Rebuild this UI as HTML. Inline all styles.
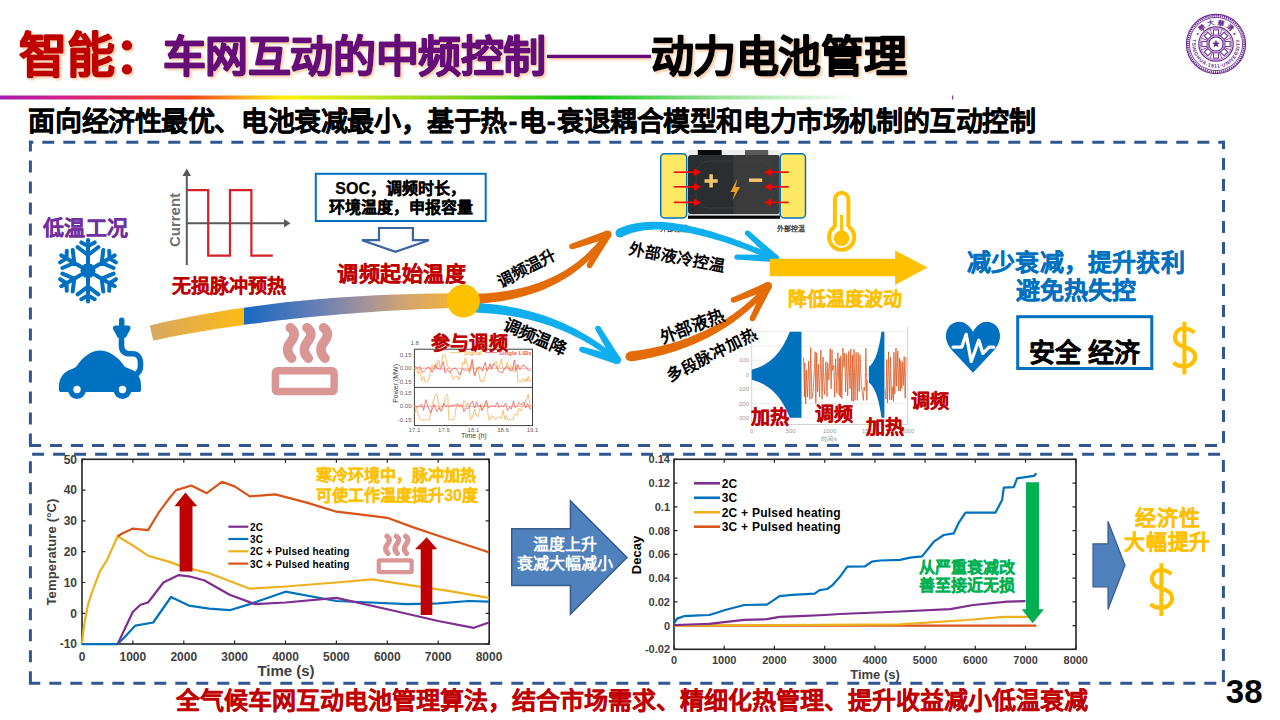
<!DOCTYPE html>
<html lang="zh-CN"><head><meta charset="utf-8"><style>
html,body{margin:0;padding:0;background:#fff;width:1280px;height:720px;overflow:hidden}
svg{position:absolute;left:0;top:0;font-family:'Liberation Sans', sans-serif}
</style></head><body>
<svg width="1280" height="720" viewBox="0 0 1280 720">
<defs><filter id="tsh" x="-5%" y="-20%" width="110%" height="150%"><feGaussianBlur in="SourceAlpha" stdDeviation="1.2"/><feOffset dx="1.5" dy="1.8" result="b"/><feFlood flood-color="#F6C49A" flood-opacity="0.8"/><feComposite in2="b" operator="in"/><feMerge><feMergeNode/><feMergeNode in="SourceGraphic"/></feMerge></filter><linearGradient id="gl" x1="0" x2="1" y1="0" y2="0"><stop offset="0" stop-color="#A21CB0"/><stop offset="0.07" stop-color="#D21E8C"/><stop offset="0.13" stop-color="#E42D5C"/><stop offset="0.22" stop-color="#F0441E"/><stop offset="0.27" stop-color="#F8931E"/><stop offset="0.33" stop-color="#FFF200"/><stop offset="0.42" stop-color="#C5E51E"/><stop offset="0.53" stop-color="#7ED321"/><stop offset="0.68" stop-color="#10C414"/><stop offset="0.82" stop-color="#8AE08A"/><stop offset="1" stop-color="#FFFFFF"/></linearGradient><linearGradient id="gb1" gradientUnits="userSpaceOnUse" x1="152" y1="0" x2="244" y2="0"><stop offset="0" stop-color="#D8A862"/><stop offset="1" stop-color="#FDBA12"/></linearGradient><linearGradient id="gb2" gradientUnits="userSpaceOnUse" x1="244" y1="0" x2="463" y2="0"><stop offset="0" stop-color="#1769C2"/><stop offset="0.35" stop-color="#6A80B4"/><stop offset="0.55" stop-color="#A3929A"/><stop offset="0.75" stop-color="#D5A56E"/><stop offset="1" stop-color="#F8B52A"/></linearGradient></defs>
<g filter="url(#tsh)">
<text x="18.9" y="71.5" font-size="48" fill="#C00000" text-anchor="start" font-weight="bold" stroke="#C00000" stroke-width="1.6" stroke-linejoin="round" >智能：</text>
<text x="162.5" y="72.4" font-size="43" fill="#66107A" text-anchor="start" font-weight="bold" stroke="#66107A" stroke-width="1.5" stroke-linejoin="round" letter-spacing="-0.40" >车网互动的中频控制</text>
<rect x="547" y="54.7" width="104" height="3.5" fill="#66107A"/>
<text x="650.5" y="72.2" font-size="43" fill="#000" text-anchor="start" font-weight="bold" stroke="#000" stroke-width="1.5" stroke-linejoin="round" letter-spacing="-0.40" >动力电池管理</text>
</g>
<rect x="0" y="95.5" width="860" height="4" fill="url(#gl)"/><rect x="952" y="95.5" width="1.2" height="4" fill="#9B30C0"/>
<text x="28.4" y="130.5" font-size="27" fill="#000" text-anchor="start" font-weight="bold" stroke="#000" stroke-width="0.4" stroke-linejoin="round" letter-spacing="-0.42" >面向经济性最优、电池衰减最小，基于热<tspan dx="1.6">-</tspan><tspan dx="1.6">电</tspan><tspan dx="1.6">-</tspan><tspan dx="1.6">衰退耦合模型和电力市场机制的互动控制</tspan></text>
<line x1="28.9" y1="142.3" x2="1225.0" y2="142.3" stroke="#30578F" stroke-width="3" stroke-dasharray="12 9" stroke-dashoffset="7.6"/>
<line x1="1223.5" y1="140.8" x2="1223.5" y2="446.9" stroke="#30578F" stroke-width="3" stroke-dasharray="12 9" stroke-dashoffset="3.7"/>
<line x1="1225.0" y1="445.4" x2="28.9" y2="445.4" stroke="#30578F" stroke-width="3" stroke-dasharray="12 9" stroke-dashoffset="13.0"/>
<line x1="30.4" y1="446.9" x2="30.4" y2="140.8" stroke="#30578F" stroke-width="3" stroke-dasharray="12 9" stroke-dashoffset="19.5"/>
<line x1="28.9" y1="454.2" x2="1224.9" y2="454.2" stroke="#30578F" stroke-width="3" stroke-dasharray="12 9" stroke-dashoffset="17.8"/>
<line x1="1223.4" y1="452.7" x2="1223.4" y2="684.8" stroke="#30578F" stroke-width="3" stroke-dasharray="12 9" stroke-dashoffset="13.7"/>
<line x1="1224.9" y1="683.3" x2="28.9" y2="683.3" stroke="#30578F" stroke-width="3" stroke-dasharray="12 9" stroke-dashoffset="12.4"/>
<line x1="30.4" y1="684.8" x2="30.4" y2="452.7" stroke="#30578F" stroke-width="3" stroke-dasharray="12 9" stroke-dashoffset="19.5"/>
<text x="175.5" y="709" font-size="24" fill="#C00000" text-anchor="start" font-weight="bold" stroke="#C00000" stroke-width="0.3" stroke-linejoin="round" >全气候车网互动电池管理算法，结合市场需求、精细化热管理、提升收益减小低温衰减</text>
<text x="1225.8" y="702.5" font-size="33" fill="#000" text-anchor="start" font-weight="bold" >38</text>
<g fill="none" stroke="#6A2C91">
<circle cx="1216" cy="44" r="29.6" stroke-width="1.1"/>
<circle cx="1216" cy="44" r="28.2" stroke-width="1.8" stroke-dasharray="1.2 0.9"/>
<circle cx="1216" cy="44" r="26.6" stroke-width="0.9"/>
<circle cx="1216" cy="44" r="17.2" stroke-width="1.2"/>
<circle cx="1216" cy="44" r="15.8" stroke-width="0.6"/>
<circle cx="1216" cy="44" r="7.2" stroke-width="1.3"/>
<line x1="1222.7" y1="46.8" x2="1230.6" y2="50.0" stroke-width="0.8"/>
<line x1="1218.8" y1="50.7" x2="1222.0" y2="58.6" stroke-width="0.8"/>
<line x1="1213.2" y1="50.7" x2="1210.0" y2="58.6" stroke-width="0.8"/>
<line x1="1209.3" y1="46.8" x2="1201.4" y2="50.0" stroke-width="0.8"/>
<line x1="1209.3" y1="41.2" x2="1201.4" y2="38.0" stroke-width="0.8"/>
<line x1="1213.2" y1="37.3" x2="1210.0" y2="29.4" stroke-width="0.8"/>
<line x1="1218.8" y1="37.3" x2="1222.0" y2="29.4" stroke-width="0.8"/>
<line x1="1222.7" y1="41.2" x2="1230.6" y2="38.0" stroke-width="0.8"/>
</g>
<rect x="1224.9" y="41.4" width="5.2" height="5.2" fill="none" stroke="#6A2C91" stroke-width="1" transform="rotate(90 1227.5 44.0)"/>
<rect x="1221.5" y="49.5" width="5.2" height="5.2" fill="none" stroke="#6A2C91" stroke-width="1" transform="rotate(135 1224.1 52.1)"/>
<rect x="1213.4" y="52.9" width="5.2" height="5.2" fill="none" stroke="#6A2C91" stroke-width="1" transform="rotate(180 1216.0 55.5)"/>
<rect x="1205.3" y="49.5" width="5.2" height="5.2" fill="none" stroke="#6A2C91" stroke-width="1" transform="rotate(225 1207.9 52.1)"/>
<rect x="1201.9" y="41.4" width="5.2" height="5.2" fill="none" stroke="#6A2C91" stroke-width="1" transform="rotate(270 1204.5 44.0)"/>
<rect x="1205.3" y="33.3" width="5.2" height="5.2" fill="none" stroke="#6A2C91" stroke-width="1" transform="rotate(315 1207.9 35.9)"/>
<rect x="1213.4" y="29.9" width="5.2" height="5.2" fill="none" stroke="#6A2C91" stroke-width="1" transform="rotate(360 1216.0 32.5)"/>
<rect x="1221.5" y="33.3" width="5.2" height="5.2" fill="none" stroke="#6A2C91" stroke-width="1" transform="rotate(405 1224.1 35.9)"/>
<polygon points="1216.0,39.8 1217.1,42.5 1220.0,42.7 1217.7,44.6 1218.5,47.4 1216.0,45.8 1213.5,47.4 1214.3,44.6 1212.0,42.7 1214.9,42.5" fill="#6A2C91"/>
<path id="lgt" d="M1197.84,48.87 A18.8,18.8 0 1,1 1234.16,48.87" fill="none"/>
<path id="lgb" d="M1200.40,31.81 A19.8,19.8 0 1,0 1231.60,31.81" fill="none"/>
<text font-size="6.8" fill="#6A2C91" font-weight="bold"><textPath href="#lgt" startOffset="50%" text-anchor="middle">•   學  大  華  清   •</textPath></text>
<text font-size="5" fill="#6A2C91" font-weight="bold" letter-spacing="0"><textPath href="#lgb" startOffset="50%" text-anchor="middle" dominant-baseline="hanging">TSINGHUA·1911·UNIVERSITY</textPath></text>
<text x="42.5" y="235.3" font-size="21" fill="#7030A0" text-anchor="start" font-weight="bold" stroke="#7030A0" stroke-width="0.3" stroke-linejoin="round" letter-spacing="0.60" >低温工况</text>
<path d="M88.0,270.8 L88.0,240.0 M98.4,247.2 L88.0,255.0 L77.6,247.2 M94.7,242.4 L88.0,246.0 L81.3,242.4 M88.0,270.8 L114.7,255.4 M113.6,268.0 L101.7,262.9 L103.3,250.0 M115.9,262.4 L109.5,258.4 L109.2,250.8 M88.0,270.8 L114.7,286.2 M103.3,291.6 L101.7,278.7 L113.6,273.6 M109.2,290.8 L109.5,283.2 L115.9,279.2 M88.0,270.8 L88.0,301.6 M77.6,294.4 L88.0,286.6 L98.4,294.4 M81.3,299.2 L88.0,295.6 L94.7,299.2 M88.0,270.8 L61.3,286.2 M62.4,273.6 L74.3,278.7 L72.7,291.6 M60.1,279.2 L66.5,283.2 L66.8,290.8 M88.0,270.8 L61.3,255.4 M72.7,250.0 L74.3,262.9 L62.4,268.0 M66.8,250.8 L66.5,258.4 L60.1,262.4" fill="none" stroke="#0070C0" stroke-width="4" stroke-linecap="round" stroke-linejoin="round"/>
<polygon points="95.8,270.8 91.9,277.6 84.1,277.6 80.2,270.8 84.1,264.0 91.9,264.0" fill="#0070C0"/>
<g transform="translate(50,310)" fill="#0070C0"><path d="M9,80 C8,70 12,62 22,59 L26,57 C33,46 42,40.5 50,40.5 C58,40.5 68,46 75,57 L80,59 C87,61 91,68 91,75 L91,80 C91,81.5 90,82 89,82 L11,82 C10,82 9,81.5 9,80 Z"/><circle cx="27" cy="80" r="9"/><circle cx="72.5" cy="80" r="9"/></g>
<circle cx="77" cy="389.5" r="3.7" fill="#fff"/><circle cx="122.5" cy="389.5" r="3.7" fill="#fff"/>
<path d="M121.5,336 L121.5,345.5 C121.5,351 124.5,353.8 130.5,353.8 L132.5,353.8 C137.5,353.8 140.5,357.5 140.5,362.5 L140.5,366 C140.5,370.5 138.5,373.5 134,376" fill="none" stroke="#0070C0" stroke-width="5.6" stroke-linecap="round"/>
<path d="M115.5,325.5 L128,325.5 Q130.5,325.5 130.5,328 Q130.5,330 129,331.5 L126,337.5 L117.5,337.5 L114.5,331.5 Q113,330 113,328 Q113,325.5 115.5,325.5 Z" fill="#0070C0"/>
<rect x="119" y="317.5" width="5.5" height="10" rx="2.7" fill="#0070C0"/>
<g stroke="#595959" stroke-width="2" fill="none"><line x1="186.8" y1="173" x2="186.8" y2="265"/><line x1="186.8" y1="223.2" x2="286" y2="223.2"/></g>
<polygon points="182.5,176 186.8,168.5 191,176" fill="#595959"/><polygon points="284,219 290.5,223.2 284,227.5" fill="#595959"/>
<polyline points="187,190.1 208.2,190.1 208.2,255.7 230,255.7 230,190.1 251.4,190.1 251.4,255.7 272.8,255.7" fill="none" stroke="#D42027" stroke-width="2.2"/>
<text transform="translate(180,220) rotate(-90)" x="0" y="0" font-size="15" fill="#6F6F6F" text-anchor="middle" font-weight="bold">Current</text>
<text x="172" y="293.2" font-size="19" fill="#C00000" text-anchor="start" font-weight="bold" stroke="#C00000" stroke-width="0.3" stroke-linejoin="round" letter-spacing="-0.10" >无损脉冲预热</text>
<clipPath id="cl1"><rect x="0" y="250" width="244" height="120"/></clipPath><clipPath id="cl2"><rect x="244" y="250" width="300" height="120"/></clipPath>
<polygon points="153.2,340.6 156.5,339.9 159.9,339.2 163.2,338.5 166.6,337.8 170.0,337.1 173.4,336.5 176.8,335.8 180.2,335.2 183.6,334.5 187.1,333.9 190.6,333.3 194.0,332.7 197.5,332.1 201.0,331.5 204.6,330.9 208.1,330.3 211.6,329.7 215.2,329.1 218.8,328.6 222.4,328.0 226.0,327.5 229.6,326.9 233.2,326.4 236.8,325.9 240.5,325.4 244.2,324.8 247.9,324.3 251.6,323.8 255.3,323.4 259.0,322.9 262.7,322.4 266.5,321.9 270.3,321.5 274.0,321.0 277.8,320.6 281.6,320.1 285.5,319.7 289.3,319.3 293.2,318.8 297.0,318.4 300.9,318.0 304.8,317.6 308.7,317.2 312.6,316.8 316.5,316.5 320.5,316.1 324.5,315.7 328.4,315.4 332.4,315.0 336.4,314.7 340.4,314.3 344.5,314.0 348.5,313.7 352.6,313.4 356.7,313.0 360.7,312.7 364.8,312.5 369.0,312.2 373.1,311.9 377.2,311.6 381.4,311.3 385.6,311.1 389.8,310.8 394.0,310.6 398.2,310.4 402.4,310.1 406.6,309.9 410.9,309.7 415.2,309.5 419.5,309.3 423.8,309.1 428.1,308.9 432.4,308.7 436.7,308.6 441.1,308.4 445.5,308.3 449.9,308.1 454.3,308.0 458.7,307.9 463.1,307.7 462.9,293.3 458.4,293.3 454.0,293.3 449.6,293.3 445.1,293.4 440.7,293.4 436.4,293.5 432.0,293.6 427.6,293.6 423.3,293.7 418.9,293.8 414.6,293.9 410.3,294.1 406.0,294.2 401.7,294.3 397.5,294.5 393.2,294.6 389.0,294.8 384.7,295.0 380.5,295.1 376.3,295.3 372.1,295.5 368.0,295.7 363.8,296.0 359.7,296.2 355.5,296.4 351.4,296.7 347.3,297.0 343.2,297.2 339.2,297.5 335.1,297.8 331.0,298.1 327.0,298.4 323.0,298.8 319.0,299.1 315.0,299.4 311.0,299.8 307.0,300.2 303.1,300.5 299.2,300.9 295.2,301.3 291.3,301.7 287.4,302.1 283.5,302.6 279.7,303.0 275.8,303.5 272.0,303.9 268.2,304.4 264.3,304.9 260.6,305.4 256.8,305.9 253.0,306.4 249.2,306.9 245.5,307.4 241.8,308.0 238.1,308.5 234.4,309.1 230.7,309.6 227.0,310.2 223.3,310.8 219.7,311.4 216.1,312.0 212.5,312.7 208.9,313.3 205.3,313.9 201.7,314.6 198.1,315.2 194.6,315.9 191.1,316.6 187.6,317.3 184.0,318.0 180.6,318.7 177.1,319.4 173.6,320.1 170.2,320.8 166.7,321.6 163.3,322.3 159.9,323.1 156.5,323.9 153.2,324.7 149.8,325.4" fill="url(#gb1)" clip-path="url(#cl1)"/>
<polygon points="153.2,340.6 156.5,339.9 159.9,339.2 163.2,338.5 166.6,337.8 170.0,337.1 173.4,336.5 176.8,335.8 180.2,335.2 183.6,334.5 187.1,333.9 190.6,333.3 194.0,332.7 197.5,332.1 201.0,331.5 204.6,330.9 208.1,330.3 211.6,329.7 215.2,329.1 218.8,328.6 222.4,328.0 226.0,327.5 229.6,326.9 233.2,326.4 236.8,325.9 240.5,325.4 244.2,324.8 247.9,324.3 251.6,323.8 255.3,323.4 259.0,322.9 262.7,322.4 266.5,321.9 270.3,321.5 274.0,321.0 277.8,320.6 281.6,320.1 285.5,319.7 289.3,319.3 293.2,318.8 297.0,318.4 300.9,318.0 304.8,317.6 308.7,317.2 312.6,316.8 316.5,316.5 320.5,316.1 324.5,315.7 328.4,315.4 332.4,315.0 336.4,314.7 340.4,314.3 344.5,314.0 348.5,313.7 352.6,313.4 356.7,313.0 360.7,312.7 364.8,312.5 369.0,312.2 373.1,311.9 377.2,311.6 381.4,311.3 385.6,311.1 389.8,310.8 394.0,310.6 398.2,310.4 402.4,310.1 406.6,309.9 410.9,309.7 415.2,309.5 419.5,309.3 423.8,309.1 428.1,308.9 432.4,308.7 436.7,308.6 441.1,308.4 445.5,308.3 449.9,308.1 454.3,308.0 458.7,307.9 463.1,307.7 462.9,293.3 458.4,293.3 454.0,293.3 449.6,293.3 445.1,293.4 440.7,293.4 436.4,293.5 432.0,293.6 427.6,293.6 423.3,293.7 418.9,293.8 414.6,293.9 410.3,294.1 406.0,294.2 401.7,294.3 397.5,294.5 393.2,294.6 389.0,294.8 384.7,295.0 380.5,295.1 376.3,295.3 372.1,295.5 368.0,295.7 363.8,296.0 359.7,296.2 355.5,296.4 351.4,296.7 347.3,297.0 343.2,297.2 339.2,297.5 335.1,297.8 331.0,298.1 327.0,298.4 323.0,298.8 319.0,299.1 315.0,299.4 311.0,299.8 307.0,300.2 303.1,300.5 299.2,300.9 295.2,301.3 291.3,301.7 287.4,302.1 283.5,302.6 279.7,303.0 275.8,303.5 272.0,303.9 268.2,304.4 264.3,304.9 260.6,305.4 256.8,305.9 253.0,306.4 249.2,306.9 245.5,307.4 241.8,308.0 238.1,308.5 234.4,309.1 230.7,309.6 227.0,310.2 223.3,310.8 219.7,311.4 216.1,312.0 212.5,312.7 208.9,313.3 205.3,313.9 201.7,314.6 198.1,315.2 194.6,315.9 191.1,316.6 187.6,317.3 184.0,318.0 180.6,318.7 177.1,319.4 173.6,320.1 170.2,320.8 166.7,321.6 163.3,322.3 159.9,323.1 156.5,323.9 153.2,324.7 149.8,325.4" fill="url(#gb2)" clip-path="url(#cl2)"/>
<g transform="translate(271.7,367) scale(1.0)"><rect x="3.7" y="3.7" width="58.7" height="20.9" rx="2" fill="none" stroke="#D99694" stroke-width="7.5"/><path d="M18.5,-39.3 C24.5,-35 23,-30 19,-25 C14.5,-19.5 15,-13.5 20,-8.8" fill="none" stroke="#D99694" stroke-width="9.5" stroke-linecap="round"/><path d="M35.2,-39.3 C41.2,-35 39.7,-30 35.7,-25 C31.2,-19.5 31.7,-13.5 36.7,-8.8" fill="none" stroke="#D99694" stroke-width="9.5" stroke-linecap="round"/><path d="M51.8,-39.3 C57.8,-35 56.3,-30 52.3,-25 C47.8,-19.5 48.3,-13.5 53.3,-8.8" fill="none" stroke="#D99694" stroke-width="9.5" stroke-linecap="round"/></g>
<rect x="315.8" y="173.8" width="169.9" height="47.2" fill="#fff" stroke="#0070C0" stroke-width="2"/>
<text x="400.7" y="193.8" font-size="16" fill="#000" text-anchor="middle" font-weight="bold" stroke="#000" stroke-width="0.25" stroke-linejoin="round" >SOC，调频时长，</text>
<text x="400.7" y="213.3" font-size="16" fill="#000" text-anchor="middle" font-weight="bold" stroke="#000" stroke-width="0.25" stroke-linejoin="round" >环境温度，申报容量</text>
<polygon points="379,228 412.9,228 412.9,240.2 428.9,240.2 395.5,251.8 362,240.2 379,240.2" fill="#fff" stroke="#3A64A0" stroke-width="2.2" stroke-linejoin="miter"/>
<text x="337" y="280.9" font-size="21" fill="#C00000" text-anchor="start" font-weight="bold" stroke="#C00000" stroke-width="0.3" stroke-linejoin="round" letter-spacing="0.50" >调频起始温度</text>
<polygon points="470.2,304.0 473.9,303.8 477.6,303.6 481.3,303.4 484.9,303.1 488.4,302.7 491.9,302.3 495.3,301.9 498.7,301.4 502.0,300.9 505.3,300.4 508.5,299.8 511.6,299.2 514.7,298.5 517.7,297.8 520.7,297.1 523.6,296.3 526.5,295.5 529.3,294.6 532.1,293.8 534.8,292.8 537.4,291.9 540.1,290.9 542.6,289.9 545.1,288.9 547.6,287.8 550.0,286.7 552.4,285.6 554.7,284.4 557.0,283.3 559.3,282.1 561.4,280.8 563.6,279.6 565.7,278.3 567.7,277.0 569.8,275.7 571.7,274.3 573.7,273.0 575.6,271.6 577.4,270.2 579.2,268.8 581.0,267.3 582.7,265.8 584.4,264.4 586.1,262.9 587.7,261.4 589.3,259.9 590.8,258.3 592.3,256.8 593.8,255.2 595.3,253.6 596.7,252.1 598.1,250.5 599.4,248.9 600.7,247.3 602.0,245.6 603.3,244.0 604.5,242.4 605.7,240.7 606.9,239.1 608.0,237.5 604.0,234.5 602.8,236.1 601.6,237.6 600.4,239.2 599.1,240.7 597.8,242.2 596.5,243.7 595.2,245.2 593.8,246.7 592.4,248.2 591.0,249.6 589.6,251.1 588.1,252.5 586.6,253.9 585.1,255.4 583.5,256.8 581.9,258.1 580.3,259.5 578.6,260.8 576.9,262.2 575.1,263.5 573.4,264.8 571.6,266.0 569.7,267.3 567.8,268.5 565.9,269.7 564.0,270.9 562.0,272.1 559.9,273.2 557.9,274.3 555.7,275.4 553.6,276.5 551.4,277.6 549.1,278.6 546.9,279.6 544.5,280.5 542.2,281.5 539.7,282.4 537.3,283.3 534.7,284.1 532.2,284.9 529.6,285.7 526.9,286.5 524.2,287.2 521.4,287.9 518.6,288.6 515.8,289.2 512.8,289.8 509.9,290.3 506.9,290.9 503.8,291.3 500.6,291.8 497.5,292.2 494.2,292.6 490.9,292.9 487.6,293.2 484.1,293.4 480.7,293.6 477.1,293.8 473.5,293.9 469.8,294.0" fill="#E36C09"/>
<polygon points="606.2,230.7 571.1,243.8 572.9,249.2 608.8,238.3" fill="#E36C09"/><circle cx="572" cy="246.5" r="2.80" fill="#E36C09"/><polygon points="604.0,232.5 587.1,264.1 591.9,266.9 611.0,236.5" fill="#E36C09"/><circle cx="589.5" cy="265.5" r="2.80" fill="#E36C09"/><circle cx="607.5" cy="234.5" r="4.02" fill="#E36C09"/>
<polygon points="464.9,312.5 468.6,312.5 472.3,312.6 475.8,312.6 479.3,312.8 482.8,312.9 486.2,313.2 489.6,313.4 493.0,313.7 496.2,314.0 499.5,314.4 502.7,314.8 505.8,315.2 508.9,315.7 512.0,316.1 515.0,316.7 518.0,317.2 521.0,317.8 523.9,318.4 526.7,319.1 529.5,319.8 532.3,320.5 535.1,321.2 537.8,322.0 540.4,322.7 543.0,323.6 545.6,324.4 548.2,325.2 550.7,326.1 553.2,327.0 555.6,327.9 558.0,328.9 560.4,329.8 562.7,330.8 565.0,331.8 567.3,332.8 569.5,333.8 571.7,334.8 573.9,335.9 576.0,336.9 578.2,338.0 580.2,339.1 582.3,340.2 584.3,341.3 586.3,342.4 588.3,343.6 590.2,344.7 592.1,345.8 594.0,347.0 595.8,348.2 597.6,349.3 599.4,350.5 601.2,351.6 602.9,352.8 604.7,354.0 606.4,355.1 608.0,356.3 609.7,357.5 611.3,358.7 612.9,359.8 614.5,361.0 617.5,357.0 616.0,355.8 614.4,354.5 612.8,353.3 611.2,352.0 609.5,350.8 607.9,349.5 606.2,348.2 604.4,347.0 602.7,345.7 600.9,344.5 599.1,343.2 597.2,342.0 595.3,340.7 593.4,339.5 591.5,338.2 589.5,337.0 587.5,335.8 585.5,334.6 583.4,333.4 581.3,332.2 579.2,331.0 577.0,329.8 574.8,328.6 572.6,327.5 570.3,326.4 568.0,325.3 565.7,324.2 563.3,323.1 560.9,322.0 558.4,321.0 555.9,319.9 553.4,318.9 550.8,317.9 548.2,317.0 545.5,316.0 542.8,315.1 540.1,314.2 537.3,313.4 534.5,312.5 531.6,311.7 528.7,310.9 525.8,310.2 522.8,309.4 519.8,308.8 516.7,308.1 513.6,307.5 510.4,306.9 507.2,306.3 504.0,305.8 500.7,305.3 497.3,304.8 493.9,304.4 490.5,304.0 487.0,303.7 483.5,303.4 479.9,303.1 476.2,302.9 472.6,302.7 468.8,302.6 465.1,302.5" fill="#0FAEEF"/>
<polygon points="618.2,356.1 582.8,346.8 581.2,352.2 615.8,363.9" fill="#0FAEEF"/><circle cx="582" cy="349.5" r="2.80" fill="#0FAEEF"/><polygon points="620.4,357.9 600.4,327.1 595.6,329.9 613.6,362.1" fill="#0FAEEF"/><circle cx="598" cy="328.5" r="2.80" fill="#0FAEEF"/><circle cx="617" cy="360" r="4.02" fill="#0FAEEF"/>
<circle cx="463.4" cy="301" r="16.5" fill="#FFC000"/>
<text transform="translate(526.5,268) rotate(-27)" x="0" y="5.84" font-size="16" fill="#000" text-anchor="middle" font-weight="bold">调频温升</text>
<text transform="translate(534.7,336.6) rotate(23.4)" x="0" y="6.21" font-size="17" fill="#000" text-anchor="middle" font-weight="bold" letter-spacing="-0.30">调频温降</text>
<g>
<rect x="414.4" y="349.2" width="118.1" height="76.4" fill="#fff" stroke="#404040" stroke-width="1"/>
<line x1="414.4" y1="387.4" x2="532.5" y2="387.4" stroke="#404040" stroke-width="1"/>
<line x1="414.4" y1="368.3" x2="532.5" y2="368.3" stroke="#F4A0A0" stroke-width="0.8"/>
<line x1="414.4" y1="406.3" x2="532.5" y2="406.3" stroke="#F4A0A0" stroke-width="0.8"/>
<polyline points="415.0,369.0 416.7,369.4 418.1,373.9 419.5,368.7 420.6,374.7 422.1,380.6 423.9,376.5 424.9,381.8 425.7,381.8 426.6,381.8 428.2,380.5 429.5,376.2 430.6,367.7 432.2,364.7 433.2,368.3 434.8,369.8 436.0,362.8 436.8,367.9 438.1,360.8 438.9,360.0 440.0,367.4 441.8,363.7 442.8,354.8 443.8,354.8 444.8,354.8 446.2,359.7 447.2,364.4 448.8,367.9 449.9,369.5 451.3,375.3 452.3,377.8 453.4,379.4 454.3,376.5 455.7,377.2 457.5,376.1 459.2,379.6 460.9,373.2 461.9,368.9 462.9,362.1 464.3,364.2 465.1,358.0 466.6,363.1 468.0,367.0 469.5,373.6 470.9,367.6 472.0,361.5 472.8,365.9 473.6,371.1 475.0,376.1 476.7,367.8 478.2,366.6 479.0,374.1 480.5,381.8 481.8,379.8 483.6,381.8 485.1,376.0 486.6,370.5 487.8,367.4 489.5,368.8 491.1,367.6 492.3,366.5 493.2,364.7 494.9,361.9 496.4,361.6 498.0,368.8 498.9,367.2 499.9,364.4 501.3,358.8 502.1,363.2 503.1,368.8 504.6,369.6 505.7,367.0 507.0,362.6 508.6,365.2 509.8,371.1 511.4,365.5 513.1,369.2 514.4,372.4 515.6,369.9 516.7,364.6 518.0,381.8 519.4,381.8 520.9,381.8 522.1,381.8 523.2,378.5 525.0,381.8 526.3,378.5 527.2,381.4 528.2,376.3 529.6,381.8 531.1,379.3" fill="none" stroke="#F7B55C" stroke-width="0.85" stroke-linejoin="round" />
<polyline points="415.0,366.5 417.5,368.3 419.7,366.0 421.5,370.2 423.0,372.4 425.7,369.6 427.7,366.9 430.4,368.5 432.1,372.4 435.0,365.3 436.9,368.4 438.5,368.8 440.6,369.4 443.4,361.6 445.0,372.8 447.2,369.2 450.0,372.8 452.8,368.8 455.4,368.1 458.1,371.5 459.9,374.8 462.4,368.9 465.2,370.3 467.5,369.9 469.8,371.0 472.1,359.3 474.4,375.5 477.3,368.4 480.2,367.3 482.4,371.2 485.2,362.1 486.9,371.0 488.5,368.6 490.0,363.6 491.5,369.3 493.8,363.6 496.1,365.8 498.7,371.7 500.2,372.1 502.5,372.5 504.8,367.9 507.2,366.2 510.1,370.2 512.5,370.3 514.3,359.9 516.0,370.7 518.1,364.8 519.9,369.7 522.6,365.1 525.4,366.1 527.9,370.1 530.7,370.4" fill="none" stroke="#F25C5C" stroke-width="0.8" stroke-linejoin="round" />
<polyline points="415.0,413.4 416.4,406.3 417.4,412.0 418.4,414.4 419.7,418.6 420.6,419.8 421.8,419.8 423.0,419.8 424.0,419.8 425.2,419.8 426.5,419.8 428.1,419.8 429.5,419.8 430.9,411.8 431.9,404.9 433.5,400.4 435.2,395.7 436.8,393.3 438.3,401.7 439.5,409.6 441.0,407.3 442.7,404.7 444.2,403.9 445.4,396.8 446.9,394.4 447.7,394.4 448.8,419.8 450.2,419.8 451.3,419.8 452.5,419.8 453.4,419.8 454.7,417.3 455.9,409.1 457.7,403.4 459.1,404.9 460.2,406.6 461.5,406.8 463.2,404.3 464.1,400.6 465.5,402.8 466.4,406.1 467.7,402.8 469.3,407.4 470.4,419.8 472.1,417.9 473.9,411.5 474.8,408.8 475.8,415.1 476.7,414.6 478.0,416.9 479.2,411.2 481.0,403.7 482.1,409.9 483.6,407.5 484.7,404.5 486.1,402.8 487.1,407.1 488.8,419.8 489.6,419.8 490.5,419.8 491.4,415.8 492.8,416.3 493.8,417.1 495.5,419.8 497.1,417.6 498.1,417.1 499.7,417.4 501.5,418.3 503.1,410.3 504.2,415.7 505.1,419.8 506.4,415.6 508.0,419.8 509.4,419.8 511.0,418.9 511.9,419.2 513.1,419.8 514.4,414.2 516.1,413.9 517.2,415.5 519.0,408.3 520.1,410.0 521.3,411.1 522.7,406.0 524.3,405.1 525.9,399.6 526.7,400.4 528.1,394.3 529.7,402.6 531.3,409.3" fill="none" stroke="#F7B55C" stroke-width="0.85" stroke-linejoin="round" />
<polyline points="415.0,405.3 416.7,407.0 419.2,406.2 421.5,404.2 423.6,410.4 425.8,399.6 428.4,408.0 431.1,412.7 433.9,404.3 436.8,411.6 439.1,407.6 441.3,411.5 443.9,403.4 445.7,406.5 447.6,405.3 449.3,406.5 452.0,405.8 454.3,405.3 455.9,404.8 457.7,405.1 460.1,406.0 461.9,404.4 463.9,411.6 465.7,408.0 468.6,408.4 470.8,403.1 472.4,401.2 474.7,408.0 476.6,401.9 478.1,406.6 480.2,404.9 481.9,410.8 483.9,406.7 486.4,400.3 488.3,408.0 489.8,406.7 492.5,405.8 495.1,406.7 497.3,402.5 499.3,407.4 501.4,405.2 503.2,407.0 505.5,403.2 507.5,410.5 509.7,406.9 511.3,409.1 513.5,400.8 515.0,407.5 517.6,406.0 519.1,402.4 521.8,405.2 523.9,402.3 525.8,407.9 527.7,403.7 530.3,409.8" fill="none" stroke="#F25C5C" stroke-width="0.8" stroke-linejoin="round" />
</g>
<text x="411.5" y="356.7" font-size="6" fill="#606060" text-anchor="end" font-weight="normal" >0.15</text>
<text x="411.5" y="370.3" font-size="6" fill="#606060" text-anchor="end" font-weight="normal" >0.00</text>
<text x="411.5" y="383.6" font-size="6" fill="#606060" text-anchor="end" font-weight="normal" >-0.15</text>
<text x="411.5" y="395" font-size="6" fill="#606060" text-anchor="end" font-weight="normal" >0.15</text>
<text x="411.5" y="408.3" font-size="6" fill="#606060" text-anchor="end" font-weight="normal" >0.00</text>
<text x="411.5" y="422.2" font-size="6" fill="#606060" text-anchor="end" font-weight="normal" >-0.15</text>
<text x="414.7" y="345.4" font-size="6" fill="#606060" text-anchor="middle" font-weight="normal" >1.8</text>
<text x="414.4" y="432.3" font-size="6" fill="#606060" text-anchor="middle" font-weight="normal" >17.1</text>
<text x="443.9" y="432.3" font-size="6" fill="#606060" text-anchor="middle" font-weight="normal" >17.6</text>
<text x="473.4" y="432.3" font-size="6" fill="#606060" text-anchor="middle" font-weight="normal" >18.1</text>
<text x="503" y="432.3" font-size="6" fill="#606060" text-anchor="middle" font-weight="normal" >18.6</text>
<text x="532.5" y="432.3" font-size="6" fill="#606060" text-anchor="middle" font-weight="normal" >19.1</text>
<text x="473.8" y="438" font-size="7" fill="#404040" text-anchor="middle" font-weight="normal" >Time (h)</text>
<text transform="translate(398,383.4) rotate(-90)" font-size="7" fill="#404040" text-anchor="middle">Power (MW)</text>
<line x1="450" y1="352.6" x2="462" y2="352.6" stroke="#F6B860" stroke-width="0.8"/><line x1="485" y1="352.6" x2="497" y2="352.6" stroke="#F05A5A" stroke-width="0.8"/>
<text x="464" y="354.5" font-size="6" fill="#F6B860" text-anchor="start" font-weight="bold" >Signal</text>
<text x="499" y="354.5" font-size="6" fill="#F05A5A" text-anchor="start" font-weight="bold" >Single LIBs</text>
<text x="431" y="349.5" font-size="19" fill="#C00000" text-anchor="start" font-weight="bold" stroke="#C00000" stroke-width="0.3" stroke-linejoin="round" letter-spacing="0.20" >参与调频</text>
<rect x="688" y="150" width="92" height="6" fill="#EDEDED"/>
<rect x="697.8" y="150" width="23.9" height="7" fill="#0A0A0A"/><rect x="745" y="150" width="23.2" height="7" fill="#595959"/>
<rect x="688" y="155" width="91.5" height="59" rx="3" fill="#2B2E31"/>
<path d="M733.4,155 L776.5,155 Q779.5,155 779.5,158 L779.5,211 Q779.5,214 776.5,214 L733.4,214 Z" fill="#3B3B3B"/>
<rect x="696" y="161" width="76" height="47" rx="12" fill="none" stroke="#444" stroke-width="0.6"/>
<rect x="688" y="214" width="92" height="1.6" fill="#D6D6D6"/><rect x="688" y="215.6" width="92" height="3.2" fill="#050505"/>
<rect x="660.7" y="153.7" width="26" height="64.3" rx="4" fill="#FFE964" stroke="#0070C0" stroke-width="1.5"/>
<rect x="780.2" y="153.7" width="25.3" height="64.3" rx="4" fill="#FFE964" stroke="#0070C0" stroke-width="1.5"/>
<path d="M704.5,180.9 L717.7,180.9 M711.1,174.3 L711.1,187.5" stroke="#F5C46B" stroke-width="3.5"/>
<path d="M749,180.2 L762.2,180.2" stroke="#F5C46B" stroke-width="3.5"/>
<polygon points="737.5,178.5 730.5,192 735,192 732,201 740,187 735.5,187" fill="#EE9F27"/>
<line x1="673.9" y1="172.2" x2="695" y2="172.2" stroke="#FF0000" stroke-width="1.6"/><polygon points="694,168.6 701.2,172.2 694,175.79999999999998" fill="#FF0000"/>
<line x1="788.8" y1="172.2" x2="770" y2="172.2" stroke="#FF0000" stroke-width="1.6"/><polygon points="771,168.6 764.2,172.2 771,175.79999999999998" fill="#FF0000"/>
<line x1="673.9" y1="186.8" x2="695" y2="186.8" stroke="#FF0000" stroke-width="1.6"/><polygon points="694,183.20000000000002 701.2,186.8 694,190.4" fill="#FF0000"/>
<line x1="788.8" y1="186.8" x2="770" y2="186.8" stroke="#FF0000" stroke-width="1.6"/><polygon points="771,183.20000000000002 764.2,186.8 771,190.4" fill="#FF0000"/>
<line x1="673.9" y1="202.4" x2="695" y2="202.4" stroke="#FF0000" stroke-width="1.6"/><polygon points="694,198.8 701.2,202.4 694,206.0" fill="#FF0000"/>
<line x1="788.8" y1="202.4" x2="770" y2="202.4" stroke="#FF0000" stroke-width="1.6"/><polygon points="771,198.8 764.2,202.4 771,206.0" fill="#FF0000"/>
<text x="791.4" y="230.7" font-size="7" fill="#404040" text-anchor="middle" font-weight="bold" >外部控温</text>
<text x="673.5" y="230.7" font-size="7" fill="#404040" text-anchor="middle" font-weight="bold" >外部控温</text>
<polygon points="622.0,237.1 623.4,236.3 624.8,235.7 626.3,235.0 627.8,234.4 629.3,233.9 630.9,233.3 632.5,232.8 634.1,232.4 635.8,231.9 637.5,231.5 639.3,231.2 641.1,230.9 642.9,230.6 644.8,230.3 646.7,230.1 648.6,230.0 650.6,229.8 652.6,229.7 654.7,229.6 656.8,229.6 658.9,229.6 661.1,229.7 663.3,229.8 665.6,229.9 667.9,230.1 670.2,230.3 672.6,230.5 675.0,230.8 677.4,231.1 679.9,231.5 682.4,231.8 685.0,232.3 687.6,232.8 690.3,233.3 693.0,233.8 695.7,234.4 698.4,235.0 701.2,235.7 704.1,236.4 707.0,237.2 709.9,238.0 712.8,238.8 715.8,239.7 718.9,240.6 722.0,241.5 725.1,242.5 728.2,243.5 731.4,244.6 734.7,245.7 737.9,246.9 741.3,248.0 744.6,249.3 748.0,250.5 751.4,251.8 754.9,253.2 758.4,254.6 762.0,256.0 765.6,257.5 769.2,259.0 772.9,260.5 775.1,255.5 771.4,253.9 767.8,252.3 764.2,250.8 760.6,249.3 757.1,247.8 753.6,246.4 750.1,245.0 746.7,243.7 743.4,242.4 740.0,241.1 736.7,239.9 733.5,238.7 730.2,237.6 727.1,236.5 723.9,235.5 720.8,234.4 717.7,233.5 714.7,232.5 711.7,231.6 708.7,230.7 705.8,229.9 702.9,229.1 700.1,228.4 697.2,227.7 694.5,227.0 691.7,226.4 689.0,225.8 686.3,225.3 683.7,224.8 681.1,224.3 678.5,223.9 676.0,223.5 673.5,223.1 671.0,222.8 668.6,222.5 666.1,222.3 663.8,222.1 661.4,222.0 659.1,221.9 656.9,221.8 654.6,221.8 652.4,221.8 650.2,221.8 648.1,221.9 646.0,222.0 643.9,222.2 641.8,222.4 639.8,222.7 637.8,223.0 635.9,223.3 633.9,223.7 632.0,224.1 630.2,224.6 628.3,225.1 626.5,225.6 624.8,226.2 623.0,226.8 621.3,227.5 619.6,228.2 618.0,228.9" fill="#0FAEEF"/><circle cx="620" cy="233" r="4.5" fill="#0FAEEF"/>
<polygon points="778.0,255.7 749.3,231.1 745.7,234.9 773.0,261.3" fill="#0FAEEF"/><circle cx="747.5" cy="233" r="2.60" fill="#0FAEEF"/><polygon points="775.6,254.8 737.1,254.4 736.9,259.6 775.4,262.2" fill="#0FAEEF"/><circle cx="737" cy="257" r="2.60" fill="#0FAEEF"/><circle cx="775.5" cy="258.5" r="3.74" fill="#0FAEEF"/>
<text transform="translate(676.8,257.3) rotate(10.8)" x="0" y="5.95" font-size="16" fill="#000" text-anchor="middle" font-weight="bold" letter-spacing="0.30">外部液冷控温</text>
<polygon points="630.7,361.5 633.2,361.1 635.7,360.7 638.3,360.3 640.8,359.8 643.3,359.3 645.9,358.8 648.4,358.3 650.9,357.8 653.4,357.2 656.0,356.6 658.5,356.0 661.0,355.3 663.5,354.7 666.0,354.0 668.5,353.2 671.0,352.5 673.5,351.7 675.9,350.9 678.4,350.1 680.9,349.2 683.3,348.3 685.8,347.4 688.2,346.5 690.6,345.5 693.0,344.5 695.5,343.5 697.8,342.4 700.2,341.3 702.6,340.2 705.0,339.1 707.3,337.9 709.7,336.7 712.0,335.4 714.3,334.2 716.6,332.9 718.9,331.6 721.2,330.2 723.4,328.8 725.7,327.4 727.9,325.9 730.1,324.4 732.3,322.9 734.5,321.4 736.6,319.8 738.8,318.2 740.9,316.5 743.0,314.8 745.1,313.1 747.2,311.4 749.2,309.6 751.3,307.8 753.3,305.9 755.3,304.0 757.2,302.1 759.2,300.1 761.1,298.1 763.0,296.1 764.9,294.0 766.7,291.9 768.6,289.8 764.4,286.2 762.6,288.2 760.7,290.2 758.8,292.2 757.0,294.1 755.0,296.0 753.1,297.8 751.1,299.6 749.2,301.4 747.2,303.1 745.2,304.8 743.1,306.5 741.1,308.1 739.0,309.7 736.9,311.3 734.8,312.8 732.7,314.4 730.6,315.8 728.4,317.3 726.3,318.7 724.1,320.0 721.9,321.4 719.7,322.7 717.5,324.0 715.3,325.2 713.0,326.4 710.8,327.6 708.5,328.8 706.2,329.9 704.0,331.0 701.7,332.1 699.3,333.1 697.0,334.1 694.7,335.1 692.4,336.0 690.0,337.0 687.6,337.9 685.3,338.7 682.9,339.6 680.5,340.4 678.1,341.2 675.7,341.9 673.3,342.7 670.9,343.4 668.5,344.0 666.1,344.7 663.7,345.3 661.2,345.9 658.8,346.5 656.4,347.0 653.9,347.6 651.5,348.1 649.0,348.6 646.6,349.0 644.1,349.4 641.7,349.8 639.2,350.2 636.7,350.6 634.3,350.9 631.8,351.2 629.3,351.5" fill="#E36C09"/><circle cx="630" cy="356.5" r="4.5" fill="#E36C09"/>
<polygon points="766.5,282.3 732.4,297.4 734.6,302.6 769.5,289.7" fill="#E36C09"/><circle cx="733.5" cy="300" r="2.80" fill="#E36C09"/><polygon points="764.4,284.3 750.0,317.3 755.0,319.7 771.6,287.7" fill="#E36C09"/><circle cx="752.5" cy="318.5" r="2.80" fill="#E36C09"/><circle cx="768" cy="286" r="4.02" fill="#E36C09"/>
<text transform="translate(692,326) rotate(-21.3)" x="0" y="6.21" font-size="17" fill="#000" text-anchor="middle" font-weight="bold">外部液热</text>
<text transform="translate(711.4,354.4) rotate(-26.6)" x="0" y="6.02" font-size="16" fill="#000" text-anchor="middle" font-weight="bold" letter-spacing="0.50">多段脉冲加热</text>
<polygon points="769.7,258.7 895.1,258.7 895.1,250.4 927.6,267.5 895.1,285 895.1,276.2 769.7,276.2" fill="#FFC000"/>
<path d="M834.9,227 L834.9,199.5 A6.75,6.75 0 0,1 848.4,199.5 L848.4,227" fill="none" stroke="#FFC000" stroke-width="4"/>
<path d="M834.9,226.5 A12.6,12.6 0 1,0 848.4,226.5" fill="none" stroke="#FFC000" stroke-width="4"/>
<circle cx="841.6" cy="238.3" r="7.8" fill="#FFC000"/><rect x="840.1" y="215" width="3" height="20" fill="#FFC000"/>
<text x="788" y="305.6" font-size="19" fill="#FFC000" text-anchor="start" font-weight="bold" stroke="#FFC000" stroke-width="0.3" stroke-linejoin="round" letter-spacing="-0.10" >降低温度波动</text>
<g stroke="#E6E6E6" stroke-width="0.7" fill="none">
<line x1="751.7" y1="331.5" x2="907.6" y2="331.5"/>
<line x1="751.7" y1="346" x2="907.6" y2="346"/>
<line x1="751.7" y1="360.3" x2="907.6" y2="360.3"/>
<line x1="751.7" y1="374.7" x2="907.6" y2="374.7"/>
<line x1="751.7" y1="389.2" x2="907.6" y2="389.2"/>
<line x1="751.7" y1="403.6" x2="907.6" y2="403.6"/>
<line x1="751.7" y1="418" x2="907.6" y2="418"/>
</g>
<path d="M751.7,327 L751.7,424.5 L907.6,424.5 L907.6,327" fill="none" stroke="#C8C8C8" stroke-width="0.8"/>
<polygon points="751.7,369.7 752.5,369.5 753.2,369.3 754.0,369.0 754.7,368.8 755.5,368.5 756.3,368.3 757.0,368.0 757.8,367.7 758.6,367.4 759.3,367.1 760.1,366.8 760.8,366.4 761.6,366.0 762.4,365.7 763.1,365.3 763.9,364.9 764.7,364.4 765.4,364.0 766.2,363.5 766.9,363.0 767.7,362.5 768.5,362.0 769.2,361.4 770.0,360.8 770.8,360.2 771.5,359.6 772.3,358.9 773.0,358.2 773.8,357.5 774.6,356.7 775.3,355.9 776.1,355.1 776.8,354.2 777.6,353.3 778.4,352.3 779.1,351.4 779.9,350.3 780.7,349.2 781.4,348.1 782.2,346.9 782.9,345.7 783.7,344.4 784.5,343.0 785.2,341.6 786.0,340.1 786.8,338.6 787.5,337.0 788.3,335.3 789.0,333.5 789.8,331.7 801.5,331.7 801.5,417.7 789.8,417.7 789.0,415.9 788.3,414.1 787.5,412.4 786.8,410.8 786.0,409.3 785.2,407.8 784.5,406.4 783.7,405.0 782.9,403.7 782.2,402.5 781.4,401.3 780.7,400.2 779.9,399.1 779.1,398.0 778.4,397.1 777.6,396.1 776.8,395.2 776.1,394.3 775.3,393.5 774.6,392.7 773.8,391.9 773.0,391.2 772.3,390.5 771.5,389.8 770.8,389.2 770.0,388.6 769.2,388.0 768.5,387.4 767.7,386.9 766.9,386.4 766.2,385.9 765.4,385.4 764.7,385.0 763.9,384.5 763.1,384.1 762.4,383.7 761.6,383.4 760.8,383.0 760.1,382.6 759.3,382.3 758.6,382.0 757.8,381.7 757.0,381.4 756.3,381.1 755.5,380.9 754.7,380.6 754.0,380.4 753.2,380.1 752.5,379.9 751.7,379.7" fill="#0072BD"/>
<polygon points="868.9,366.7 869.2,366.5 869.4,366.3 869.7,366.1 869.9,365.9 870.2,365.6 870.4,365.4 870.7,365.1 870.9,364.9 871.2,364.6 871.4,364.3 871.7,364.0 871.9,363.7 872.2,363.3 872.4,363.0 872.7,362.6 872.9,362.2 873.2,361.8 873.4,361.4 873.7,361.0 873.9,360.5 874.2,360.1 874.4,359.6 874.7,359.1 874.9,358.5 875.2,358.0 875.5,357.4 875.7,356.8 876.0,356.1 876.2,355.4 876.5,354.7 876.7,354.0 877.0,353.2 877.2,352.4 877.5,351.6 877.7,350.7 878.0,349.8 878.2,348.8 878.5,347.8 878.7,346.8 879.0,345.7 879.2,344.6 879.5,343.4 879.7,342.1 880.0,340.8 880.2,339.5 880.5,338.1 880.7,336.6 881.0,335.0 881.2,333.4 881.5,331.7 884.4,331.7 884.4,417.7 881.5,417.7 881.2,416.0 881.0,414.4 880.7,412.8 880.5,411.3 880.2,409.9 880.0,408.6 879.7,407.3 879.5,406.0 879.2,404.8 879.0,403.7 878.7,402.6 878.5,401.6 878.2,400.6 878.0,399.6 877.7,398.7 877.5,397.8 877.2,397.0 877.0,396.2 876.7,395.4 876.5,394.7 876.2,394.0 876.0,393.3 875.7,392.6 875.5,392.0 875.2,391.4 874.9,390.9 874.7,390.3 874.4,389.8 874.2,389.3 873.9,388.9 873.7,388.4 873.4,388.0 873.2,387.6 872.9,387.2 872.7,386.8 872.4,386.4 872.2,386.1 871.9,385.7 871.7,385.4 871.4,385.1 871.2,384.8 870.9,384.5 870.7,384.3 870.4,384.0 870.2,383.8 869.9,383.5 869.7,383.3 869.4,383.1 869.2,382.9 868.9,382.7" fill="#0072BD"/>
<polyline points="803.6,357.3 804.4,396.9 804.9,362.9 805.7,403.9 806.5,369.9 807.5,397.1 808.7,361.1 809.8,399.4 810.7,347.6 811.9,398.7 813.1,391.2 814.0,376.8 815.2,351.7 815.8,403.3 816.7,352.7 817.6,391.7 818.5,364.2 819.6,397.0 820.9,350.1 822.1,399.3 823.0,357.1 824.2,390.4 824.7,394.5 825.3,375.1 825.9,361.6 827.1,396.7 827.7,362.9 828.9,379.8 830.2,348.5 831.1,388.8 832.0,350.0 832.5,370.4 833.8,365.1 834.6,397.2 835.6,358.8 836.9,393.2 837.9,352.7 839.2,395.4 839.7,358.0 840.3,397.0 840.8,355.9 841.8,398.4 842.9,348.2 844.0,367.3 844.8,353.1 845.6,392.0 846.6,354.2 847.7,395.8 848.8,351.2 850.0,388.6 850.8,348.9 851.6,400.8 852.4,355.1 853.2,401.8 854.0,349.3 855.0,400.3 856.1,352.3 857.3,400.3 858.1,352.5 859.2,391.6 860.0,354.8 861.3,385.1 862.5,394.4 863.4,400.4 864.0,387.2 865.1,390.5 865.9,348.3 866.8,400.4 867.4,380.3" fill="none" stroke="#D95319" stroke-width="0.75" stroke-linejoin="round" />
<polyline points="885.0,390.2 886.0,399.2 886.6,359.6 887.5,402.8 888.5,351.8 889.7,399.9 890.5,357.2 891.6,400.0 892.9,386.5 893.4,401.4 893.9,352.1 894.8,394.0 896.0,348.0 896.6,386.3 897.8,351.1 898.7,391.0 899.5,358.1 900.3,391.2 900.9,360.6 901.7,388.4 902.5,361.9 903.3,385.5 904.2,356.4 905.2,398.2 906.1,357.2" fill="none" stroke="#D95319" stroke-width="0.75" stroke-linejoin="round" />
<text x="749" y="362" font-size="6" fill="#9A9A9A" text-anchor="end" font-weight="normal" >100</text>
<text x="749" y="376.7" font-size="6" fill="#9A9A9A" text-anchor="end" font-weight="normal" >0</text>
<text x="749" y="391.2" font-size="6" fill="#9A9A9A" text-anchor="end" font-weight="normal" >-100</text>
<text x="749" y="405.6" font-size="6" fill="#9A9A9A" text-anchor="end" font-weight="normal" >-200</text>
<text x="749" y="420" font-size="6" fill="#9A9A9A" text-anchor="end" font-weight="normal" >-300</text>
<text x="751.7" y="433" font-size="6" fill="#9A9A9A" text-anchor="middle" font-weight="normal" >0</text>
<text x="790.7" y="433" font-size="6" fill="#9A9A9A" text-anchor="middle" font-weight="normal" >500</text>
<text x="829.6" y="433" font-size="6" fill="#9A9A9A" text-anchor="middle" font-weight="normal" >1000</text>
<text x="868.6" y="433" font-size="6" fill="#9A9A9A" text-anchor="middle" font-weight="normal" >1500</text>
<text x="907.6" y="433" font-size="6" fill="#9A9A9A" text-anchor="middle" font-weight="normal" >2000</text>
<text x="829" y="441" font-size="6" fill="#9A9A9A" text-anchor="middle" font-weight="normal" >时间/s</text>
<text x="751" y="424" font-size="19" fill="#C00000" text-anchor="start" font-weight="bold" stroke="#C00000" stroke-width="0.3" stroke-linejoin="round" >加热</text>
<text x="814.8" y="421.4" font-size="19" fill="#C00000" text-anchor="start" font-weight="bold" stroke="#C00000" stroke-width="0.3" stroke-linejoin="round" >调频</text>
<text x="866.2" y="434.4" font-size="19" fill="#C00000" text-anchor="start" font-weight="bold" stroke="#C00000" stroke-width="0.3" stroke-linejoin="round" >加热</text>
<text x="911" y="407.8" font-size="19" fill="#C00000" text-anchor="start" font-weight="bold" stroke="#C00000" stroke-width="0.3" stroke-linejoin="round" >调频</text>
<text x="1076" y="270.6" font-size="24" fill="#0070C0" text-anchor="middle" font-weight="bold" stroke="#0070C0" stroke-width="0.35" stroke-linejoin="round" letter-spacing="0.20" >减少衰减，提升获利</text>
<text x="1075.6" y="299.1" font-size="24" fill="#0070C0" text-anchor="middle" font-weight="bold" stroke="#0070C0" stroke-width="0.35" stroke-linejoin="round" >避免热失控</text>
<rect x="1017.7" y="316.7" width="134.1" height="51.8" fill="#fff" stroke="#0070C0" stroke-width="3"/>
<text x="1084.7" y="361.8" font-size="26" fill="#000" text-anchor="middle" font-weight="bold" stroke="#000" stroke-width="0.4" stroke-linejoin="round" >安全 经济</text>
<g transform="translate(940,315)"><path d="M33,16.7 C29,10 24,6.8 19.5,6.8 C11,6.8 5.9,13.5 5.9,21 C5.9,27 9,32 14,37.5 L33,57.8 L52,37.5 C57,32 60,27 60,21 C60,13.5 55,6.8 46.5,6.8 C42,6.8 37,10 33,16.7 Z" fill="#0070C0"/><polyline points="13.1,32.1 21.7,32.1 26.2,19.4 31.2,46.5 38.8,25.3 42.9,38.4 49.2,32.1 53.7,32.1" fill="none" stroke="#fff" stroke-width="3.3" stroke-linejoin="round" stroke-linecap="round"/></g>
<path transform="translate(1160,315)" d="M34.3,17.8 C31,14.5 28,13.5 24.4,13.5 C18,13.5 14.9,18 14.9,22.6 C14.9,28 19,30 24.4,32 C31,34 35.2,37 35.2,41.5 C35.2,47 30,51.4 24.4,51.4 C20,51.4 16,50 13.5,47.5 M24.4,6.8 L24.4,59.6" fill="none" stroke="#FFC000" stroke-width="4.1"/>
<rect x="82" y="459.3" width="407.2" height="184.7" fill="none" stroke="#262626" stroke-width="1.6"/>
<path d="M82.0,644 L82.0,640.5 M82.0,459.3 L82.0,462.8 M132.9,644 L132.9,640.5 M132.9,459.3 L132.9,462.8 M183.8,644 L183.8,640.5 M183.8,459.3 L183.8,462.8 M234.6,644 L234.6,640.5 M234.6,459.3 L234.6,462.8 M285.5,644 L285.5,640.5 M285.5,459.3 L285.5,462.8 M336.4,644 L336.4,640.5 M336.4,459.3 L336.4,462.8 M387.3,644 L387.3,640.5 M387.3,459.3 L387.3,462.8 M438.2,644 L438.2,640.5 M438.2,459.3 L438.2,462.8 M489.0,644 L489.0,640.5 M489.0,459.3 L489.0,462.8 M82,644.1 L85.5,644.1 M489.2,644.1 L485.7,644.1 M82,613.3 L85.5,613.3 M489.2,613.3 L485.7,613.3 M82,582.5 L85.5,582.5 M489.2,582.5 L485.7,582.5 M82,551.7 L85.5,551.7 M489.2,551.7 L485.7,551.7 M82,520.9 L85.5,520.9 M489.2,520.9 L485.7,520.9 M82,490.1 L85.5,490.1 M489.2,490.1 L485.7,490.1 M82,459.3 L85.5,459.3 M489.2,459.3 L485.7,459.3" stroke="#262626" stroke-width="1.2"/>
<text x="77" y="648.3999999999999" font-size="12" fill="#404040" text-anchor="end" font-weight="bold" >-10</text>
<text x="77" y="617.5999999999999" font-size="12" fill="#404040" text-anchor="end" font-weight="bold" >0</text>
<text x="77" y="586.8" font-size="12" fill="#404040" text-anchor="end" font-weight="bold" >10</text>
<text x="77" y="555.9999999999999" font-size="12" fill="#404040" text-anchor="end" font-weight="bold" >20</text>
<text x="77" y="525.1999999999999" font-size="12" fill="#404040" text-anchor="end" font-weight="bold" >30</text>
<text x="77" y="494.4" font-size="12" fill="#404040" text-anchor="end" font-weight="bold" >40</text>
<text x="77" y="463.59999999999997" font-size="12" fill="#404040" text-anchor="end" font-weight="bold" >50</text>
<text x="82.0" y="660.8" font-size="12" fill="#404040" text-anchor="middle" font-weight="bold" >0</text>
<text x="132.88" y="660.8" font-size="12" fill="#404040" text-anchor="middle" font-weight="bold" >1000</text>
<text x="183.76" y="660.8" font-size="12" fill="#404040" text-anchor="middle" font-weight="bold" >2000</text>
<text x="234.64000000000001" y="660.8" font-size="12" fill="#404040" text-anchor="middle" font-weight="bold" >3000</text>
<text x="285.52" y="660.8" font-size="12" fill="#404040" text-anchor="middle" font-weight="bold" >4000</text>
<text x="336.4" y="660.8" font-size="12" fill="#404040" text-anchor="middle" font-weight="bold" >5000</text>
<text x="387.28000000000003" y="660.8" font-size="12" fill="#404040" text-anchor="middle" font-weight="bold" >6000</text>
<text x="438.16" y="660.8" font-size="12" fill="#404040" text-anchor="middle" font-weight="bold" >7000</text>
<text x="489.04" y="660.8" font-size="12" fill="#404040" text-anchor="middle" font-weight="bold" >8000</text>
<text x="286" y="676.3" font-size="15" fill="#404040" text-anchor="middle" font-weight="bold" >Time (s)</text>
<text transform="translate(56,552) rotate(-90)" font-size="13" fill="#404040" text-anchor="middle" font-weight="bold" letter-spacing="0.15">Temperature (°C)</text>
<polyline points="82.0,644.1 84.0,625.6 88.1,604.1 92.2,591.7 99.8,571.7 107.4,559.4 117.6,536.3 132.9,545.5 148.1,555.7 168.5,561.6 183.8,567.1 209.2,573.3 249.9,588.7 285.5,586.5 336.4,582.5 372.0,579.4 412.7,585.6 448.3,590.8 489.0,597.9" fill="none" stroke="#EDB120" stroke-width="2.2" stroke-linejoin="round" />
<polyline points="82.0,644.1 117.6,644.1 125.2,636.4 135.4,625.6 153.2,622.5 171.0,597.0 188.8,605.6 209.2,608.7 229.6,610.2 249.9,604.1 285.5,591.7 336.4,601.0 407.6,604.1 438.2,603.4 468.7,601.0 489.0,601.6" fill="none" stroke="#0072BD" stroke-width="2.2" stroke-linejoin="round" />
<polyline points="117.6,644.1 122.7,633.3 132.9,611.8 140.5,604.7 148.1,602.5 163.4,582.5 178.7,575.1 188.8,576.3 204.1,580.3 229.6,594.8 255.0,604.1 285.5,602.5 336.4,597.9 387.3,609.3 438.2,621.0 473.8,627.8 489.0,622.5" fill="none" stroke="#7E2F8E" stroke-width="2.2" stroke-linejoin="round" />
<polyline points="117.6,536.3 122.7,533.2 132.9,528.6 138.0,529.2 148.1,530.1 158.3,513.2 168.5,499.3 176.1,490.1 183.8,487.9 191.4,485.5 206.7,493.2 221.9,481.8 234.6,486.4 249.9,496.3 260.1,495.6 275.3,494.4 305.9,502.4 336.4,511.7 361.8,514.7 387.3,517.8 412.7,527.1 438.2,535.7 463.6,544.0 489.0,552.3" fill="none" stroke="#D95319" stroke-width="2.2" stroke-linejoin="round" />
<line x1="228.3" y1="526.7" x2="248.3" y2="526.7" stroke="#7E2F8E" stroke-width="2.2"/>
<text x="250" y="530.7" font-size="10" fill="#000" text-anchor="start" font-weight="bold" letter-spacing="0.23">2C</text>
<line x1="228.3" y1="539.0" x2="248.3" y2="539.0" stroke="#0072BD" stroke-width="2.2"/>
<text x="250" y="543.0" font-size="10" fill="#000" text-anchor="start" font-weight="bold" letter-spacing="0.23">3C</text>
<line x1="228.3" y1="551.3000000000001" x2="248.3" y2="551.3000000000001" stroke="#EDB120" stroke-width="2.2"/>
<text x="250" y="555.3000000000001" font-size="10" fill="#000" text-anchor="start" font-weight="bold" letter-spacing="0.23">2C + Pulsed heating</text>
<line x1="228.3" y1="563.6" x2="248.3" y2="563.6" stroke="#D95319" stroke-width="2.2"/>
<text x="250" y="567.6" font-size="10" fill="#000" text-anchor="start" font-weight="bold" letter-spacing="0.23">3C + Pulsed heating</text>
<text x="476" y="480.7" font-size="16" fill="#FFC000" text-anchor="end" font-weight="bold" stroke="#FFC000" stroke-width="0.25" stroke-linejoin="round" >寒冷环境中，脉冲加热</text>
<text x="478" y="500.5" font-size="16" fill="#FFC000" text-anchor="end" font-weight="bold" stroke="#FFC000" stroke-width="0.25" stroke-linejoin="round" >可使工作温度提升30度</text>
<polygon points="179.6,571.5 192.5,571.5 192.5,506.2 197.3,506.2 185.4,492.6 174.5,506.2 179.6,506.2" fill="#C00000"/>
<polygon points="420.7,615 432.3,615 432.3,549.3 437.3,549.3 426.7,537.3 415,549.3 420.7,549.3" fill="#C00000"/>
<g transform="translate(376.7,558.3) scale(0.56)"><rect x="3.7" y="3.7" width="58.7" height="20.9" rx="2" fill="none" stroke="#D99694" stroke-width="7.5"/><path d="M18.5,-39.3 C24.5,-35 23,-30 19,-25 C14.5,-19.5 15,-13.5 20,-8.8" fill="none" stroke="#D99694" stroke-width="9.5" stroke-linecap="round"/><path d="M35.2,-39.3 C41.2,-35 39.7,-30 35.7,-25 C31.2,-19.5 31.7,-13.5 36.7,-8.8" fill="none" stroke="#D99694" stroke-width="9.5" stroke-linecap="round"/><path d="M51.8,-39.3 C57.8,-35 56.3,-30 52.3,-25 C47.8,-19.5 48.3,-13.5 53.3,-8.8" fill="none" stroke="#D99694" stroke-width="9.5" stroke-linecap="round"/></g>
<polygon points="511.7,528.8 570.4,528.8 570.4,500.8 627,557.5 570.4,614.1 570.4,585.6 511.7,585.6" fill="#4F81BD" stroke="#385D8A" stroke-width="1.5"/>
<text x="565" y="549.5" font-size="16" fill="#fff" text-anchor="middle" font-weight="bold" >温度上升</text>
<text x="565" y="568.8" font-size="16" fill="#fff" text-anchor="middle" font-weight="bold" >衰减大幅减小</text>
<rect x="674" y="459.3" width="402" height="190" fill="none" stroke="#262626" stroke-width="1.6"/>
<path d="M674.0,649.3 L674.0,645.8 M674.0,459.3 L674.0,462.8 M724.2,649.3 L724.2,645.8 M724.2,459.3 L724.2,462.8 M774.4,649.3 L774.4,645.8 M774.4,459.3 L774.4,462.8 M824.7,649.3 L824.7,645.8 M824.7,459.3 L824.7,462.8 M874.9,649.3 L874.9,645.8 M874.9,459.3 L874.9,462.8 M925.1,649.3 L925.1,645.8 M925.1,459.3 L925.1,462.8 M975.3,649.3 L975.3,645.8 M975.3,459.3 L975.3,462.8 M1025.5,649.3 L1025.5,645.8 M1025.5,459.3 L1025.5,462.8 M1075.8,649.3 L1075.8,645.8 M1075.8,459.3 L1075.8,462.8 M674,649.3 L677.5,649.3 M1076,649.3 L1072.5,649.3 M674,625.6 L677.5,625.6 M1076,625.6 L1072.5,625.6 M674,601.8 L677.5,601.8 M1076,601.8 L1072.5,601.8 M674,578.1 L677.5,578.1 M1076,578.1 L1072.5,578.1 M674,554.3 L677.5,554.3 M1076,554.3 L1072.5,554.3 M674,530.6 L677.5,530.6 M1076,530.6 L1072.5,530.6 M674,506.9 L677.5,506.9 M1076,506.9 L1072.5,506.9 M674,483.1 L677.5,483.1 M1076,483.1 L1072.5,483.1 M674,459.4 L677.5,459.4 M1076,459.4 L1072.5,459.4" stroke="#262626" stroke-width="1.2"/>
<text x="670" y="653.3" font-size="11" fill="#404040" text-anchor="end" font-weight="bold" >-0.02</text>
<text x="670" y="629.56" font-size="11" fill="#404040" text-anchor="end" font-weight="bold" >0</text>
<text x="670" y="605.8199999999999" font-size="11" fill="#404040" text-anchor="end" font-weight="bold" >0.02</text>
<text x="670" y="582.0799999999999" font-size="11" fill="#404040" text-anchor="end" font-weight="bold" >0.04</text>
<text x="670" y="558.3399999999999" font-size="11" fill="#404040" text-anchor="end" font-weight="bold" >0.06</text>
<text x="670" y="534.5999999999999" font-size="11" fill="#404040" text-anchor="end" font-weight="bold" >0.08</text>
<text x="670" y="510.85999999999996" font-size="11" fill="#404040" text-anchor="end" font-weight="bold" >0.1</text>
<text x="670" y="487.12" font-size="11" fill="#404040" text-anchor="end" font-weight="bold" >0.12</text>
<text x="670" y="463.38" font-size="11" fill="#404040" text-anchor="end" font-weight="bold" >0.14</text>
<text x="674.0" y="664" font-size="11" fill="#404040" text-anchor="middle" font-weight="bold" >0</text>
<text x="724.22" y="664" font-size="11" fill="#404040" text-anchor="middle" font-weight="bold" >1000</text>
<text x="774.44" y="664" font-size="11" fill="#404040" text-anchor="middle" font-weight="bold" >2000</text>
<text x="824.66" y="664" font-size="11" fill="#404040" text-anchor="middle" font-weight="bold" >3000</text>
<text x="874.88" y="664" font-size="11" fill="#404040" text-anchor="middle" font-weight="bold" >4000</text>
<text x="925.1" y="664" font-size="11" fill="#404040" text-anchor="middle" font-weight="bold" >5000</text>
<text x="975.3199999999999" y="664" font-size="11" fill="#404040" text-anchor="middle" font-weight="bold" >6000</text>
<text x="1025.54" y="664" font-size="11" fill="#404040" text-anchor="middle" font-weight="bold" >7000</text>
<text x="1075.76" y="664" font-size="11" fill="#404040" text-anchor="middle" font-weight="bold" >8000</text>
<text x="875" y="679" font-size="13" fill="#404040" text-anchor="middle" font-weight="bold" >Time (s)</text>
<text transform="translate(641,555) rotate(-90)" font-size="13" fill="#000" text-anchor="middle" font-weight="bold">Decay</text>
<polyline points="674.0,625.7 1036.4,625.7" fill="none" stroke="#D95319" stroke-width="2.2" stroke-linejoin="round" />
<polyline points="674.0,625.7 724.2,625.3 824.7,624.8 900.0,624.3 966.8,620.0 1003.7,616.8 1035.6,616.8" fill="none" stroke="#EDB120" stroke-width="2.2" stroke-linejoin="round" />
<polyline points="674.0,625.1 689.1,624.5 709.2,623.9 724.2,622.1 744.3,619.8 766.9,619.2 779.5,616.8 799.5,616.2 824.7,615.0 840.1,614.0 900.0,611.5 950.2,609.1 973.3,605.0 1007.2,601.6 1025.5,601.1" fill="none" stroke="#7E2F8E" stroke-width="2.2" stroke-linejoin="round" />
<polyline points="674.0,623.3 677.0,618.6 684.0,616.2 694.1,615.6 709.2,615.0 716.7,612.7 724.2,610.3 744.3,605.0 766.9,604.6 774.4,599.6 779.5,596.1 792.0,594.9 814.6,593.7 819.6,590.2 827.2,589.0 832.2,585.4 839.7,577.1 847.3,566.7 864.8,566.5 871.8,561.7 879.9,560.5 900.0,559.9 910.0,557.6 922.1,556.4 933.8,541.7 943.8,535.0 953.8,533.3 958.8,522.6 965.5,512.7 995.4,512.7 1002.1,500.1 1003.8,487.6 1013.8,487.1 1017.1,478.3 1033.8,475.9 1036.4,473.4" fill="none" stroke="#0072BD" stroke-width="2.2" stroke-linejoin="round" />
<line x1="694" y1="483.3" x2="720" y2="483.3" stroke="#7E2F8E" stroke-width="2.6"/>
<text x="721.7" y="487.6" font-size="12" fill="#000" text-anchor="start" font-weight="bold" letter-spacing="0.25">2C</text>
<line x1="694" y1="497.77000000000004" x2="720" y2="497.77000000000004" stroke="#0072BD" stroke-width="2.6"/>
<text x="721.7" y="502.07000000000005" font-size="12" fill="#000" text-anchor="start" font-weight="bold" letter-spacing="0.25">3C</text>
<line x1="694" y1="512.24" x2="720" y2="512.24" stroke="#EDB120" stroke-width="2.6"/>
<text x="721.7" y="516.54" font-size="12" fill="#000" text-anchor="start" font-weight="bold" letter-spacing="0.25">2C + Pulsed heating</text>
<line x1="694" y1="526.71" x2="720" y2="526.71" stroke="#D95319" stroke-width="2.6"/>
<text x="721.7" y="531.01" font-size="12" fill="#000" text-anchor="start" font-weight="bold" letter-spacing="0.25">3C + Pulsed heating</text>
<polygon points="1026,482.3 1039,482.3 1039,609.3 1044,609.3 1032.7,623.3 1021.7,609.3 1026,609.3" fill="#00B050"/>
<text x="1015" y="572.5" font-size="16" fill="#00B050" text-anchor="end" font-weight="bold" stroke="#00B050" stroke-width="0.25" stroke-linejoin="round" >从严重衰减改</text>
<text x="1015" y="590.8" font-size="16" fill="#00B050" text-anchor="end" font-weight="bold" stroke="#00B050" stroke-width="0.25" stroke-linejoin="round" >善至接近无损</text>
<polygon points="1093,543.8 1108,543.8 1108,521.3 1125,565.2 1108,609.5 1108,587 1093,587" fill="#4F81BD" stroke="#385D8A" stroke-width="1.2"/>
<text x="1168.2" y="524.6" font-size="21" fill="#FFC000" text-anchor="middle" font-weight="bold" stroke="#FFC000" stroke-width="0.3" stroke-linejoin="round" letter-spacing="0.80" >经济性</text>
<text x="1167.7" y="549.2" font-size="21" fill="#FFC000" text-anchor="middle" font-weight="bold" stroke="#FFC000" stroke-width="0.3" stroke-linejoin="round" letter-spacing="0.60" >大幅提升</text>
<path transform="translate(1137,556.5)" d="M34.3,17.8 C31,14.5 28,13.5 24.4,13.5 C18,13.5 14.9,18 14.9,22.6 C14.9,28 19,30 24.4,32 C31,34 35.2,37 35.2,41.5 C35.2,47 30,51.4 24.4,51.4 C20,51.4 16,50 13.5,47.5 M24.4,6.8 L24.4,59.6" fill="none" stroke="#FFC000" stroke-width="4.1"/>
</svg></body></html>
